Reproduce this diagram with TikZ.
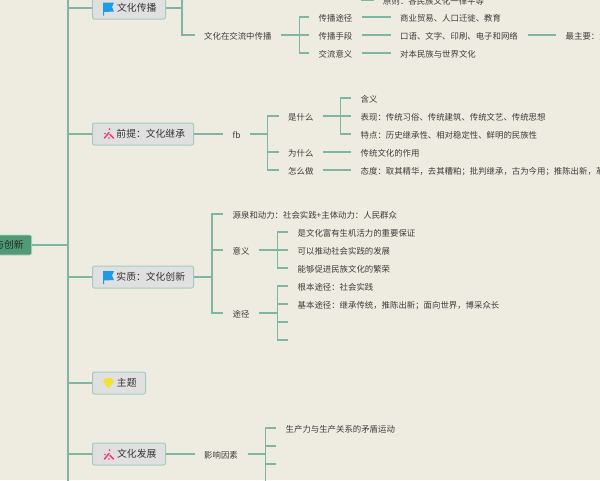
\documentclass[tikz,border=0pt]{standalone}
\usepackage{fontspec}
\setmainfont{Noto Sans CJK SC}
\definecolor{bgc}{HTML}{EEECE1}
\definecolor{linec}{HTML}{7FB5A5}
\definecolor{txtc}{HTML}{3C3C3A}
\definecolor{rootc}{HTML}{4F9B76}
\definecolor{flagc}{HTML}{1E9BE6}
\definecolor{pinkc}{HTML}{EE3D78}
\definecolor{gemc}{HTML}{F2E32E}
\tikzset{
  x=1pt,y=-1pt,
  conn/.style={draw=linec,line width=1.1pt},
  tx/.style={anchor=west,inner xsep=9.5pt,inner ysep=0pt,text height=8.4pt,text depth=0pt,text=txtc,font=\fontsize{8.4}{10}\selectfont},
  topic/.style={anchor=west,rounded corners=2pt,draw=linec!70,line width=1pt,fill=black!12!white,inner xsep=0pt,inner ysep=0pt,minimum height=22pt,text=black!80,font=\fontsize{9.8}{11}\selectfont,align=center},
  rootbox/.style={anchor=east,rounded corners=2pt,draw=linec!60,line width=.6pt,fill=rootc,inner sep=0pt,inner xsep=8pt,minimum height=20pt,text=black!85,font=\fontsize{9.8}{11}\selectfont},
}
\newcommand{\flagicon}[2]{\begin{scope}[shift={(#1,#2)}]
  \fill[flagc] (0,0) -- (11,0) -- (9,4.5) -- (11,9) -- (1,9.5) -- (1,13) -- (0,13) -- cycle;
\end{scope}}
\newcommand{\sparkicon}[2]{\begin{scope}[shift={(#1,#2)}]
  \draw[pinkc,line width=1.5pt,line cap=round] (1,10) -- (5.5,4.5);
  \draw[pinkc,line width=1.5pt,line cap=round] (6.5,6.5) -- (10,10);
  \fill[pinkc] (6,1) circle (1pt) (1.5,5.5) circle (.8pt) (5.5,10) circle (.9pt);
\end{scope}}
\newcommand{\gemicon}[2]{\begin{scope}[shift={(#1,#2)}]
  \fill[gemc] (2.5,0) -- (8.5,0) -- (11,3.5) -- (5.5,10.5) -- (0,3.5) -- cycle;
\end{scope}}
\begin{document}
\begin{tikzpicture}
\useasboundingbox (0,0) rectangle (600,480);
\clip (0,0) rectangle (600,480);
\fill[bgc] (0,0) rectangle (600,480);
% root and topics
\node[rootbox] (root) at (32,245) {文化传承与创新};
\coordinate (trunkT) at (68,-5);
\coordinate (trunkB) at (68,485);
\draw[conn] (trunkT) -- (trunkB);
\node[topic,text width=73pt] (t1) at (92,8) {\hspace*{15.5pt}文化传播};
\node[topic,text width=101pt] (t2) at (92,134) {\hspace*{15.5pt}前提：文化继承};
\node[topic,text width=101pt] (t3) at (92,277) {\hspace*{15.5pt}实质：文化创新};
\node[topic,text width=53pt] (t4) at (92,383) {\hspace*{15.5pt}主题};
\node[topic,text width=73pt] (t5) at (92,454) {\hspace*{15.5pt}文化发展};
\draw[conn] (root.east) -- (root.east -| trunkT);
\foreach \t in {t1,t2,t3,t4,t5} \draw[conn] (\t.west -| trunkT) -- (\t.west);
\flagicon{103}{2.5}
\sparkicon{103.5}{128}
\flagicon{103}{271}
\gemicon{103}{378}
\sparkicon{103.5}{449}
% topic 1
\coordinate (a0) at (182,-8);
\node[tx] (a1) at (194.5,35) {文化在交流中传播};
\draw[conn] (t1.east) -- (t1.east -| a0) (a0) |- (a1.west);
\node[tx] (b1) at (309,17) {传播途径};
\node[tx] (b2) at (309,35) {传播手段};
\node[tx] (b3) at (309,53) {交流意义};
\foreach \c in {b1,b2,b3} \draw[conn] (a1.east) -- ++(18,0) |- (\c.west);
\coordinate (c0) at (361,0);
\node[tx,inner xsep=9pt] (c00) at (374,0) {原则：各民族文化一律平等};
\draw[conn] (c0) -- (c00.west);
\node[tx] (c1) at (390.5,17) {商业贸易、人口迁徙、教育};
\node[tx] (c2) at (390.5,35) {口语、文字、印刷、电子和网络};
\node[tx] (c3) at (390.5,53) {对本民族与世界文化};
\draw[conn] (b1.east) -- (c1.west);
\draw[conn] (b2.east) -- (c2.west);
\draw[conn] (b3.east) -- (c3.west);
\node[tx] (d1) at (556,35) {最主要：大众传媒};
\draw[conn] (c2.east) -- (d1.west);
% topic 2
\node[tx] (e0) at (223,134) {fb};
\draw[conn] (t2.east) -- (e0.west);
\node[tx] (f1) at (278.5,116) {是什么};
\node[tx] (f2) at (278.5,152) {为什么};
\node[tx] (f3) at (278.5,170) {怎么做};
\foreach \c in {f1,f2,f3} \draw[conn] (e0.east) -- ++(17.5,0) |- (\c.west);
\node[tx] (g1) at (351,98) {含义};
\node[tx] (g2) at (351,116) {表现：传统习俗、传统建筑、传统文艺、传统思想};
\node[tx] (g3) at (351,134) {特点：历史继承性、相对稳定性、鲜明的民族性};
\node[tx] (g4) at (351,152) {传统文化的作用};
\node[tx] (g5) at (351,170) {态度：取其精华，去其糟粕；批判继承，古为今用；推陈出新，革故鼎新};
\foreach \c in {g1,g2,g3} \draw[conn] (f1.east) -- ++(17.5,0) |- (\c.west);
\draw[conn] (f2.east) -- (g4.west);
\draw[conn] (f3.east) -- (g5.west);
% topic 3
\node[tx] (h1) at (223,214) {源泉和动力：社会实践+主体动力：人民群众};
\node[tx] (h2) at (223,250) {意义};
\node[tx] (h3) at (223,313) {途径};
\foreach \c in {h1,h2,h3} \draw[conn] (t3.east) -- ++(18,0) |- (\c.west);
\node[tx] (i1) at (288,232) {是文化富有生机活力的重要保证};
\node[tx] (i2) at (288,250) {可以推动社会实践的发展};
\node[tx] (i3) at (288,268) {能够促进民族文化的繁荣};
\foreach \c in {i1,i2,i3} \draw[conn] (h2.east) -- ++(18,0) |- (\c.west);
\node[tx] (j1) at (288,286) {根本途径：社会实践};
\node[tx] (j2) at (288,304) {基本途径：继承传统，推陈出新；面向世界，博采众长};
\coordinate (j3) at (288,322);
\coordinate (j4) at (288,340);
\foreach \c in {j1.west,j2.west,j3,j4} \draw[conn] (h3.east) -- ++(18,0) |- (\c);
% topic 5
\node[tx] (k0) at (194.5,454) {影响因素};
\draw[conn] (t5.east) -- (k0.west);
\node[tx] (l1) at (276,428) {生产力与生产关系的矛盾运动};
\coordinate (l2) at (276,446);
\coordinate (l3) at (276,464);
\coordinate (l4) at (276,482);
\foreach \c in {l1.west,l2,l3,l4} \draw[conn] (k0.east) -- ++(18,0) |- (\c);
\end{tikzpicture}
\end{document}
